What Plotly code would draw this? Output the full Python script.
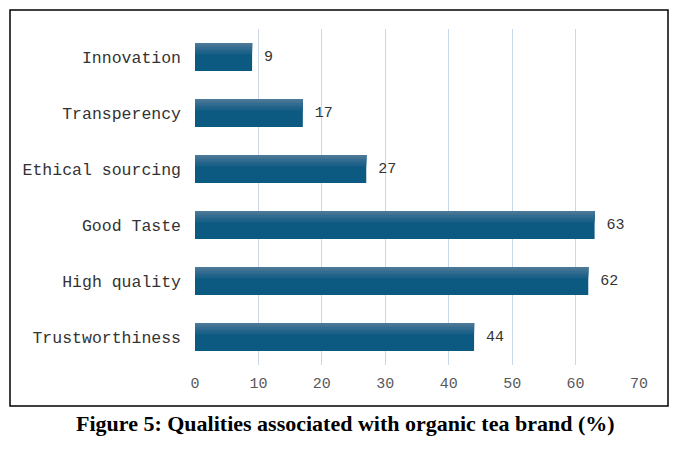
import plotly.graph_objects as go

# categories listed bottom -> top
qualities = ["Trustworthiness", "High quality", "Good Taste",
             "Ethical sourcing", "Transperency", "Innovation"]
percent = [44, 62, 63, 27, 17, 9]
x_ticks = [0, 10, 20, 30, 40, 50, 60, 70]

# page body adds an 8px margin, so the figure is laid out 8px smaller
W, H = 670, 441
L, R, T, B = 187, 39, 21, 84
pw, ph = W - L - R, H - T - B


def px_x(p):
    return (p - L) / pw


def px_y(p):
    return (H - B - p) / ph


fig = go.Figure()

# main bar
fig.add_trace(go.Bar(
    y=qualities, x=percent, orientation="h",
    width=0.5, offset=-0.25,
    marker=dict(color="#0c5a81", line=dict(width=0)),
    texttemplate=" %{x}", textposition="outside",
    textfont=dict(family="Liberation Mono", size=15, color="#333333"),
    cliponaxis=False, hoverinfo="skip",
))

# lighter bands at the top to fake the gradient
bands = [(0.20, "#1a6088"), (0.15, "#28668c"), (0.11, "#336c90"),
         (0.07, "#3f7293"), (0.035, "#4a7896")]
for h, c in bands:
    fig.add_trace(go.Bar(
        y=qualities, x=percent, orientation="h",
        width=h, offset=0.25 - h,
        marker=dict(color=c, line=dict(width=0)),
        hoverinfo="skip",
    ))

fig.update_layout(
    width=W, height=H,
    margin=dict(l=L, r=R, t=T, b=B),
    paper_bgcolor="white", plot_bgcolor="white",
    barmode="overlay", showlegend=False,
    xaxis=dict(
        range=[0, 70], tickvals=x_ticks, showgrid=True,
        gridcolor="#c9d9e8", gridwidth=1, zeroline=False,
        showline=False, ticks="", ticklabelstandoff=7,
        tickfont=dict(family="Liberation Mono", size=15, color="#595959"),
    ),
    yaxis=dict(
        categoryorder="array", categoryarray=qualities,
        range=[-0.5, 5.5], showgrid=False, zeroline=False,
        showline=False, ticks="", ticklabelstandoff=13,
        tickfont=dict(family="Liberation Mono", size=16.5, color="#333333"),
    ),
    font=dict(family="Liberation Mono"),
)

# outer frame
fig.add_shape(type="rect", xref="paper", yref="paper",
              x0=px_x(2), x1=px_x(660), y0=px_y(398), y1=px_y(2),
              line=dict(color="black", width=1.5), layer="below")

# caption
fig.add_annotation(
    text="<b>Figure 5: Qualities associated with organic tea brand (%)</b>",
    xref="paper", yref="paper", x=px_x(337), y=px_y(415),
    xanchor="center", yanchor="middle", showarrow=False,
    font=dict(family="Liberation Serif", size=22, color="black"),
)

fig.write_html("out.html")
